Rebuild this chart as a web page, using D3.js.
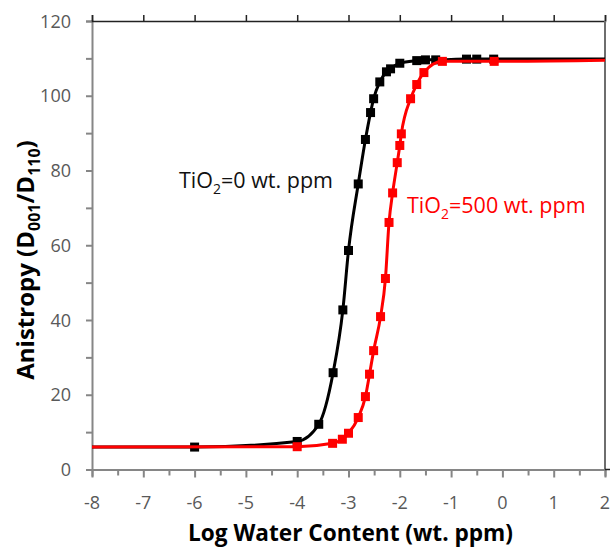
<!DOCTYPE html>
<html>
<head>
<meta charset="utf-8">
<script src="https://cdn.jsdelivr.net/npm/d3@7"></script>
<style>
  body { margin: 0; background: #fff; }
  text { font-family: 'Open Sans', sans-serif; }
</style>
</head>
<body>
<div class="container"></div>
<script>
// black: TiO2 = 0 wt. ppm
const blackX = [-6, -4.0, -3.58, -3.3, -3.11, -3.0, -2.81, -2.67, -2.57, -2.51, -2.39, -2.26, -2.18, -2.0, -1.67, -1.5, -1.3, -0.7, -0.5, -0.17];
const blackY = [6.0, 7.5, 12.1, 25.9, 42.7, 58.6, 76.4, 88.3, 95.5, 99.2, 103.7, 106.4, 107.2, 108.7, 109.4, 109.6, 109.6, 109.8, 109.8, 109.8];
// red: TiO2 = 500 wt. ppm
const redX = [-4.0, -3.31, -3.12, -3.0, -2.81, -2.67, -2.59, -2.51, -2.375, -2.28, -2.21, -2.14, -2.05, -2.0, -1.97, -1.79, -1.67, -1.53, -1.17, -0.16];
const redY = [6.1, 7.0, 8.1, 9.7, 13.9, 19.5, 25.5, 31.8, 40.9, 51.1, 66.1, 74.0, 82.1, 86.7, 89.8, 99.2, 103.0, 106.2, 109.2, 109.2];
// line ends (where the fitted curves start and stop)
const blackEnds = [[-8, 6.0], [2, 109.8]];
const redEnds = [[-8, 6.0], [2, 109.5]];

const xDomain = [-8, 2];
const yDomain = [0, 120];
const xTickValues = d3.range(-8, 3, 1);
const yTickValues = d3.range(0, 121, 20);

const width = 611;
const height = 547;
const padLeft = 92;
const padRight = 605;
const padTop = 21;
const padBottom = 469.5;

const x = d3.scaleLinear().domain(xDomain).range([padLeft, padRight]);
const y = d3.scaleLinear().domain(yDomain).range([padBottom, padTop]);

const svg = d3.select('.container')
  .append('svg')
  .attr('width', width)
  .attr('height', height);

const axisGray = '#868686';
const labelGray = '#595959';

// bottom axis: ticks every 0.5, labels at integers
const bottomAxis = svg.append('g')
  .attr('transform', `translate(0, ${padBottom})`)
  .call(d3.axisBottom(x).tickValues(d3.range(-8, 2.01, 0.5)).tickSize(7).tickFormat(''));
bottomAxis.select('.domain').attr('stroke', axisGray).attr('stroke-width', 2);
bottomAxis.selectAll('.tick line').attr('stroke', axisGray).attr('stroke-width', 2)
  .attr('y2', (d) => (Number.isInteger(d) ? 8 : 6));

svg.append('g')
  .selectAll('text')
  .data(xTickValues)
  .enter()
  .append('text')
  .attr('x', (d) => x(d))
  .attr('y', padBottom + 39)
  .attr('text-anchor', 'middle')
  .attr('fill', labelGray)
  .style('font-size', '18px')
  .text((d) => (d < 0 ? '-' + Math.abs(d) : d));

// left axis: ticks every 10, labels every 20
const leftAxis = svg.append('g')
  .attr('transform', `translate(${padLeft}, 0)`)
  .call(d3.axisLeft(y).tickValues(d3.range(0, 121, 10)).tickSize(6).tickFormat(''));
leftAxis.select('.domain').attr('stroke', axisGray).attr('stroke-width', 2);
leftAxis.selectAll('.tick line').attr('stroke', axisGray).attr('stroke-width', 2);

svg.append('g')
  .selectAll('text')
  .data(yTickValues)
  .enter()
  .append('text')
  .attr('x', padLeft - 21)
  .attr('y', (d) => y(d) + 6.5)
  .attr('text-anchor', 'end')
  .attr('fill', labelGray)
  .style('font-size', '18px')
  .text((d) => d);

// top axis (black, ticks up)
const topAxis = svg.append('g')
  .attr('transform', `translate(0, ${padTop})`)
  .call(d3.axisTop(x).tickValues(d3.range(-8, 2.01, 1)).tickSize(6).tickFormat(''));
topAxis.select('.domain').attr('stroke', '#222').attr('stroke-width', 1.5);
topAxis.selectAll('.tick line').attr('stroke', '#222').attr('stroke-width', 1.5);

// right axis
svg.append('line')
  .attr('x1', padRight).attr('x2', padRight)
  .attr('y1', padTop).attr('y2', padBottom)
  .attr('stroke', '#6e6e6e')
  .attr('stroke-width', 2);
svg.append('line')
  .attr('x1', padRight).attr('x2', padRight + 5)
  .attr('y1', padBottom).attr('y2', padBottom)
  .attr('stroke', '#222')
  .attr('stroke-width', 1.5);

svg.append('clipPath').attr('id', 'plot-clip')
  .append('rect')
  .attr('x', padLeft).attr('y', padTop - 5)
  .attr('width', padRight - padLeft).attr('height', padBottom - padTop + 10);

const line = d3.line()
  .x((d) => x(d[0]))
  .y((d) => y(d[1]))
  .curve(d3.curveMonotoneX);

function drawSeries(xs, ys, ends, color, size) {
  const pts = xs.map((v, i) => [v, ys[i]]);
  const linePts = [ends[0], ...pts, ends[1]];
  const g = svg.append('g').attr('clip-path', 'url(#plot-clip)');
  g.append('path')
    .datum(linePts)
    .attr('d', line)
    .attr('fill', 'none')
    .attr('stroke', color)
    .attr('stroke-width', 3);
  svg.append('g')
    .selectAll('rect')
    .data(pts)
    .enter()
    .append('rect')
    .attr('x', (d) => x(d[0]) - size / 2)
    .attr('y', (d) => y(d[1]) - size / 2)
    .attr('width', size)
    .attr('height', size)
    .attr('fill', color);
}

drawSeries(blackX, blackY, blackEnds, '#000000', 9);
drawSeries(redX, redY, redEnds, '#ff0000', 9);

// annotations
const note0 = svg.append('text')
  .attr('x', 179)
  .attr('y', 188)
  .attr('fill', '#111')
  .style('font-size', '21.5px');
note0.append('tspan').text('TiO');
note0.append('tspan').attr('dy', 6).style('font-size', '14px').text('2');
note0.append('tspan').attr('dy', -6).text('=0 wt. ppm');

const note500 = svg.append('text')
  .attr('x', 407)
  .attr('y', 213)
  .attr('fill', '#ff0000')
  .style('font-size', '21.5px');
note500.append('tspan').text('TiO');
note500.append('tspan').attr('dy', 6).style('font-size', '14px').text('2');
note500.append('tspan').attr('dy', -6).text('=500 wt. ppm');

// axis titles
svg.append('text')
  .attr('x', (padLeft + padRight) / 2 + 2)
  .attr('y', 541)
  .attr('text-anchor', 'middle')
  .attr('fill', '#000')
  .style('font-size', '24px')
  .style('font-weight', 'bold')
  .attr('textLength', 325)
  .attr('lengthAdjust', 'spacingAndGlyphs')
  .text('Log Water Content (wt. ppm)');

const yTitle = svg.append('text')
  .attr('transform', 'translate(34, 260) rotate(-90)')
  .attr('text-anchor', 'middle')
  .attr('fill', '#000')
  .style('font-size', '24px')
  .style('font-weight', 'bold');
yTitle.append('tspan').text('Anistropy (D');
yTitle.append('tspan').attr('dy', 6).style('font-size', '16px').text('001');
yTitle.append('tspan').attr('dy', -6).text('/D');
yTitle.append('tspan').attr('dy', 6).style('font-size', '16px').text('110');
yTitle.append('tspan').attr('dy', -6).text(')');
</script>
</body>
</html>
